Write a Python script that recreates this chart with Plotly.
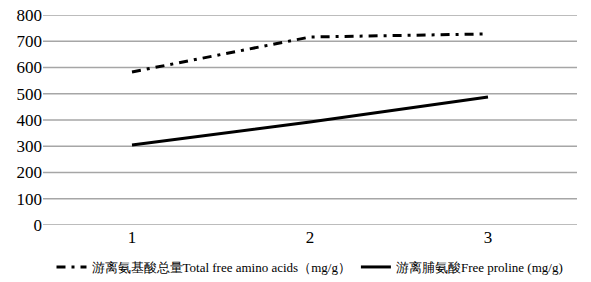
import plotly.graph_objects as go

categories = ["1", "2", "3"]
total_free_amino = [583, 716, 728]
free_proline = [305, 392, 488]
y_ticks = [0, 100, 200, 300, 400, 500, 600, 700, 800]

name1 = "游离氨基酸总量Total free amino acids（mg/g）"
name2 = "游离脯氨酸Free proline (mg/g)"

fig = go.Figure()
fig.add_trace(go.Scatter(x=[1, 2, 3], y=total_free_amino, mode="lines", name=name1,
                         line=dict(color="black", width=3, dash="9px,6px,3px,6px")))
fig.add_trace(go.Scatter(x=[1, 2, 3], y=free_proline, mode="lines", name=name2,
                         line=dict(color="black", width=3)))

# horizontal gridlines at each y tick (drawn on the y axis scale)
for v in y_ticks:
    fig.add_hline(y=v, line=dict(color="#a6a6a6", width=1.3), layer="below")

font_fam = "Liberation Serif, Times New Roman, serif"
fig.update_layout(
    width=591, height=282,
    margin=dict(l=43, r=14, t=15, b=57, autoexpand=False),
    paper_bgcolor="white", plot_bgcolor="white",
    font=dict(family=font_fam, color="black", size=15),
    showlegend=True,
    legend=dict(orientation="h", x=0.5, xanchor="center", yref="container", y=0.0, yanchor="bottom",
                font=dict(size=13, family=font_fam), tracegroupgap=0),
    xaxis=dict(range=[0.5, 3.5], tickvals=[1, 2, 3], ticktext=categories,
               showgrid=False, zeroline=False, showline=False, ticks="",
               tickfont=dict(size=17, family=font_fam), automargin=False),
    yaxis=dict(range=[0, 800], tickvals=y_ticks, showgrid=False,
               zeroline=False, showline=False, ticks="",
               tickfont=dict(size=17, family=font_fam), automargin=False),
)
fig.write_html("out.html", config={"displayModeBar": False},
               post_script="document.body.style.margin='0px';document.body.style.overflow='hidden';")
